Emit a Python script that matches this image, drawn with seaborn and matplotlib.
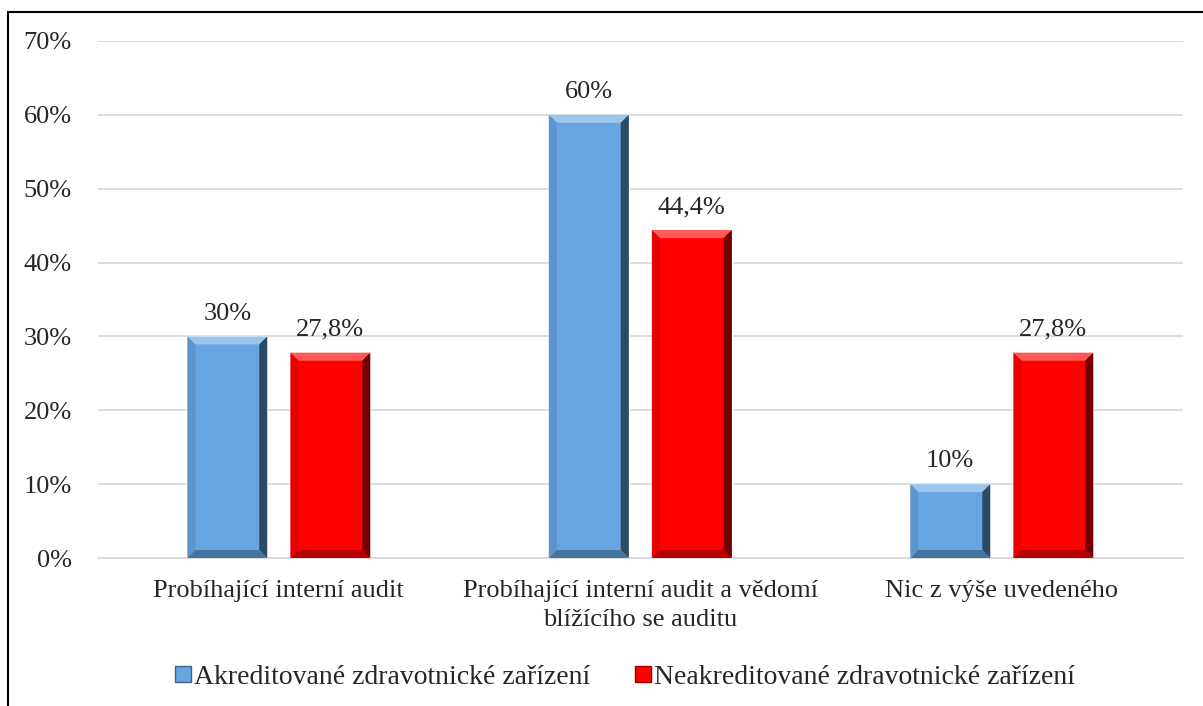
import numpy as np
import pandas as pd
import matplotlib
matplotlib.use("Agg")
import matplotlib.pyplot as plt
from matplotlib.patches import Polygon, Rectangle
from matplotlib.lines import Line2D
import seaborn as sns

categories = ["Probíhající interní audit",
              "Probíhající interní audit a vědomí\nblížícího se auditu",
              "Nic z výše uvedeného"]
series = ["Akreditované zdravotnické zařízení", "Neakreditované zdravotnické zařízení"]
akred = [0.30, 0.60, 0.10]
neakred = [0.278, 0.444, 0.278]
akred_labels = ["30%", "60%", "10%"]
neakred_labels = ["27,8%", "44,4%", "27,8%"]
colors = ["#65A5E1", "#FF0000"]

df = pd.DataFrame({
    "kategorie": categories * 2,
    "skupina": [series[0]] * 3 + [series[1]] * 3,
    "hodnota": akred + neakred,
})

sns.set_style("white")
plt.rcParams["font.family"] = ["Liberation Serif", "DejaVu Serif"]
FS = 19

fig = plt.figure(figsize=(12.03, 7.06), dpi=100)
ax = fig.add_axes([0.0815, 0.2096, 0.9015, 0.7324])

sns.barplot(data=df, x="kategorie", y="hodnota", hue="skupina", palette=colors,
            width=0.57, gap=0.224, ax=ax, legend=False, saturation=1)

ax.set_ylim(0, 0.7)
ax.set_xlim(-0.5, 2.5)
ticks = np.arange(0, 0.71, 0.1)
ax.set_yticks(ticks)
ax.set_yticklabels([f"{int(round(v * 100))}%" for v in ticks])
ax.yaxis.grid(True, color="#D9D9D9", linewidth=1.3)
ax.set_axisbelow(True)
for s in ["left", "right", "top"]:
    ax.spines[s].set_visible(False)
ax.spines["bottom"].set_color("#D9D9D9")
ax.spines["bottom"].set_linewidth(1.3)
ax.tick_params(axis="y", length=0, pad=19, labelsize=FS)
ax.tick_params(axis="x", length=0, pad=16, labelsize=FS)
for t in ax.get_xticklabels():
    t.set_linespacing(1.4)
ax.set_xlabel("")
ax.set_ylabel("")


def bevel(patch, face):
    x, y = patch.get_x(), patch.get_y()
    w, h = patch.get_width(), patch.get_height()
    # bevel size in data units, ~8px
    bx = 8 / 1084.5 * 3
    by = 8 / 517 * 0.7
    rgb = np.array(matplotlib.colors.to_rgb(face))
    light = rgb + (1 - rgb) * 0.35
    dark = rgb * 0.45
    mid_dark = rgb * 0.7
    x0, x1, y0, y1 = x, x + w, y, y + h
    parts = [
        ([(x0, y1), (x1, y1), (x1 - bx, y1 - by), (x0 + bx, y1 - by)], light),
        ([(x1, y0), (x1, y1), (x1 - bx, y1 - by), (x1 - bx, y0 + by)], dark),
        ([(x0, y0), (x1, y0), (x1 - bx, y0 + by), (x0 + bx, y0 + by)], mid_dark),
        ([(x0, y0), (x0, y1), (x0 + bx, y1 - by), (x0 + bx, y0 + by)], rgb * 0.9),
    ]
    for pts, c in parts:
        ax.add_patch(Polygon(pts, closed=True, facecolor=c, edgecolor="none", zorder=3))


bars = list(ax.patches)
labels = akred_labels + neakred_labels
face_list = [colors[0]] * 3 + [colors[1]] * 3
for p, lab, fc in zip(bars, labels, face_list):
    p.set_zorder(2)
    bevel(p, fc)
    ax.text(p.get_x() + p.get_width() / 2, p.get_height() + 0.016, lab,
            ha="center", va="bottom", fontsize=FS)

handles = [Line2D([0], [0], marker="s", linestyle="none", markersize=11,
                  markerfacecolor=c) for c in colors]
for h, c in zip(handles, colors):
    rgb = np.array(matplotlib.colors.to_rgb(c))
    h.set_markeredgecolor(rgb * 0.6)
fig.legend(handles, series, loc="center", bbox_to_anchor=(0.519, 0.041), ncol=2,
           frameon=False, fontsize=20, handletextpad=0.05, columnspacing=1.55,
           handlelength=0.7)

fig.add_artist(Rectangle((8 / 1203, -0.1), 1.2, 0.1 + 1 - 12 / 706,
                         transform=fig.transFigure, fill=False,
                         edgecolor="black", linewidth=1.5))

fig.savefig("out.png", dpi=100)
